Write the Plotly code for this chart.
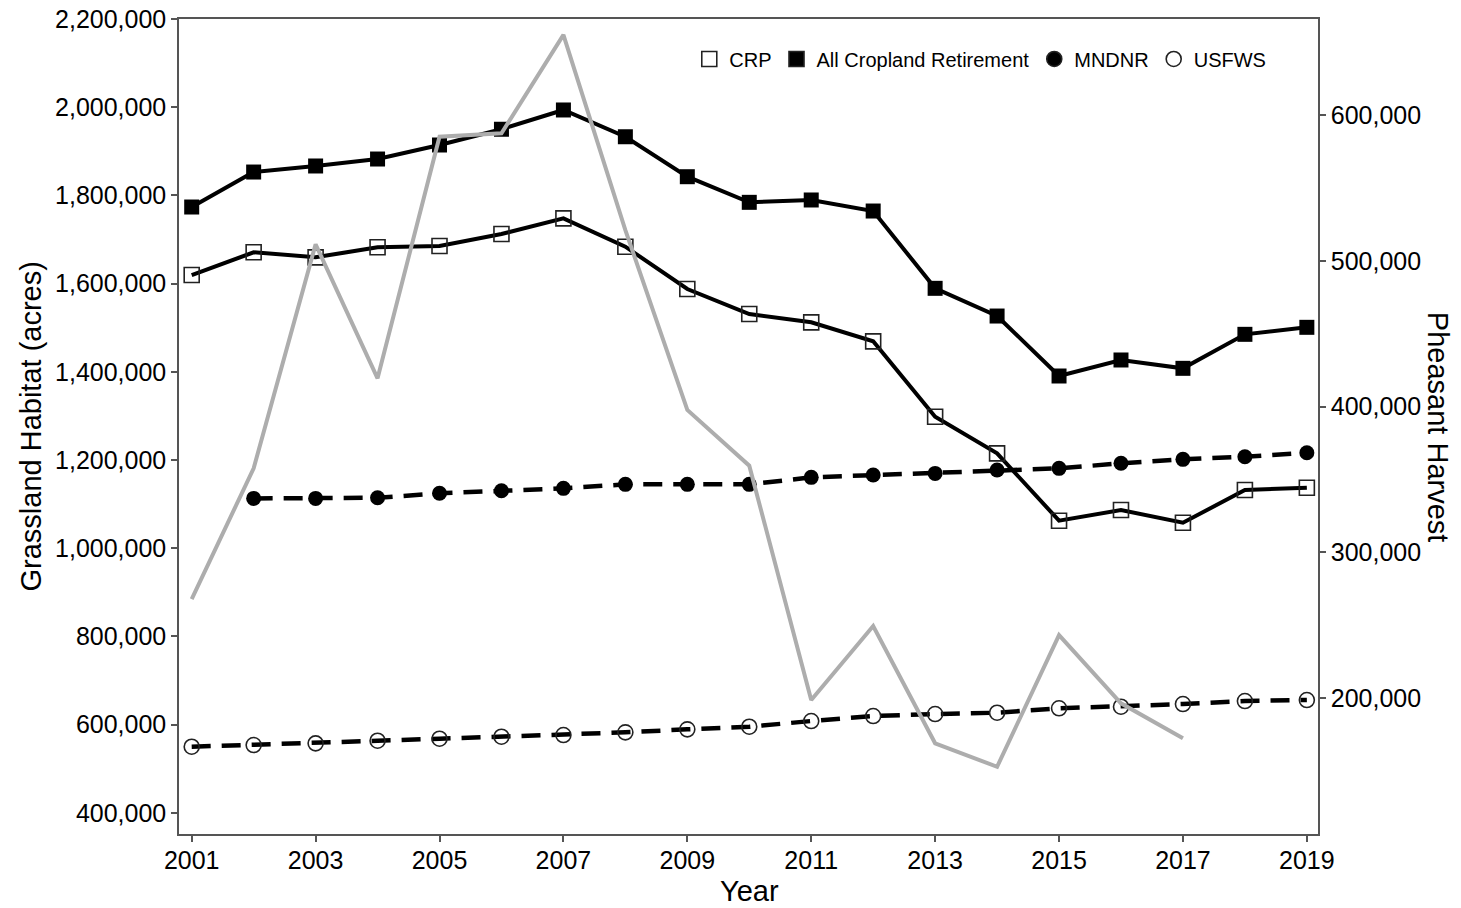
import plotly.graph_objects as go

years = list(range(2001, 2020))

crp = [1619500, 1671000, 1659600, 1682300, 1685300, 1712500, 1748000, 1683700,
       1587800, 1531000, 1512200, 1469100, 1298200, 1215100, 1062400, 1086600,
       1057800, 1132000, 1137200]

all_cropland = [1773700, 1853000, 1866700, 1882500, 1914300, 1950000, 1993700,
                1933000, 1842400, 1784300, 1789600, 1764600, 1589300, 1526500,
                1390500, 1426800, 1407900, 1485000, 1500900]

mndnr_years = list(range(2002, 2020))
mndnr = [1113000, 1113000, 1114400, 1124500, 1130400, 1135800, 1144800, 1144800,
         1144800, 1160700, 1166000, 1169700, 1177300, 1181100, 1192500, 1201500,
         1207500, 1216600]

usfws = [549900, 553700, 557500, 563500, 568000, 572600, 576400, 582500, 589300,
         595200, 608200, 619500, 624000, 627000, 637000, 640600, 646700, 653500,
         655800]

harvest_years = list(range(2001, 2018))
harvest = [268000, 357700, 511300, 419400, 585100, 587400, 654900, 521000,
           397700, 359500, 198800, 249500, 169100, 153000, 243300, 196500,
           172500]

left_ticks = list(range(400000, 2200001, 200000))
right_ticks = list(range(200000, 600001, 100000))
x_ticks = list(range(2001, 2020, 2))

FONT = "Liberation Sans, Arial, sans-serif"
AXIS_COLOR = "#555555"
DASH = "19px,11px"
TICK_SIZE = 25

fig = go.Figure()

# Grassland habitat series (left axis)
fig.add_trace(go.Scatter(
    x=years, y=all_cropland, mode="lines+markers", showlegend=False,
    line=dict(color="black", width=4),
    marker=dict(symbol="square", size=15, color="black"),
))
fig.add_trace(go.Scatter(
    x=years, y=crp, mode="lines+markers", showlegend=False,
    line=dict(color="black", width=4),
    marker=dict(symbol="square-open", size=15, color="#222222",
                line=dict(width=1.6, color="#222222")),
))
fig.add_trace(go.Scatter(
    x=mndnr_years, y=mndnr, mode="lines+markers", showlegend=False,
    line=dict(color="black", width=4.5, dash=DASH),
    marker=dict(symbol="circle", size=15, color="black"),
))
fig.add_trace(go.Scatter(
    x=years, y=usfws, mode="lines+markers", showlegend=False,
    line=dict(color="black", width=4.5, dash=DASH),
    marker=dict(symbol="circle-open", size=15, color="#222222",
                line=dict(width=1.6, color="#222222")),
))

# Pheasant harvest (right axis)
fig.add_trace(go.Scatter(
    x=harvest_years, y=harvest, mode="lines", showlegend=False, yaxis="y2",
    line=dict(color="#ADADAD", width=4),
))

# Marker-only legend entries
legend_items = [
    ("CRP", "square-open"),
    ("All Cropland Retirement", "square"),
    ("MNDNR", "circle"),
    ("USFWS", "circle-open"),
]
for name, sym in legend_items:
    fig.add_trace(go.Scatter(
        x=[None], y=[None], mode="markers", name=name,
        marker=dict(symbol=sym, size=15, color="black" if "open" not in sym else "#222222",
                    line=dict(width=1.6, color="#222222")),
    ))

axis_common = dict(
    showline=True, linecolor=AXIS_COLOR, linewidth=1.5,
    ticks="outside", ticklen=6, tickwidth=1.5, tickcolor=AXIS_COLOR,
    showgrid=False, zeroline=False, automargin=False,
    tickfont=dict(size=TICK_SIZE),
)

fig.update_layout(
    width=1461, height=908,
    margin=dict(l=179, r=143, t=19, b=74),
    paper_bgcolor="white", plot_bgcolor="white",
    font=dict(family=FONT, size=TICK_SIZE, color="black"),
    showlegend=True,
    legend=dict(
        orientation="h", x=0.448, xanchor="left", y=0.951, yanchor="middle",
        font=dict(size=20, family=FONT, color="black"),
        bgcolor="rgba(0,0,0,0)", borderwidth=0,
    ),
    xaxis=dict(range=[2000.795, 2019.18], tickvals=x_ticks, mirror=True,
               ticklabelstandoff=-3, **axis_common),
    yaxis=dict(range=[352000, 2200000], tickvals=left_ticks, tickformat=",", **axis_common),
    yaxis2=dict(range=[106900, 665800], tickvals=right_ticks, tickformat=",",
                overlaying="y", side="right", **axis_common),
    annotations=[
        dict(text="Year", xref="paper", yref="paper", x=0.5013, y=-0.0699,
             xanchor="center", yanchor="middle", showarrow=False,
             font=dict(size=29, family=FONT, color="black")),
        dict(text="Grassland Habitat (acres)", xref="paper", yref="paper",
             x=-0.1308, y=0.5, xanchor="center", yanchor="middle", textangle=-90,
             showarrow=False, font=dict(size=29, family=FONT, color="black")),
        dict(text="Pheasant Harvest", xref="paper", yref="paper",
             x=1.1054, y=0.4995, xanchor="center", yanchor="middle", textangle=90,
             showarrow=False, font=dict(size=29, family=FONT, color="black")),
    ],
)

fig.write_html("out.html")
